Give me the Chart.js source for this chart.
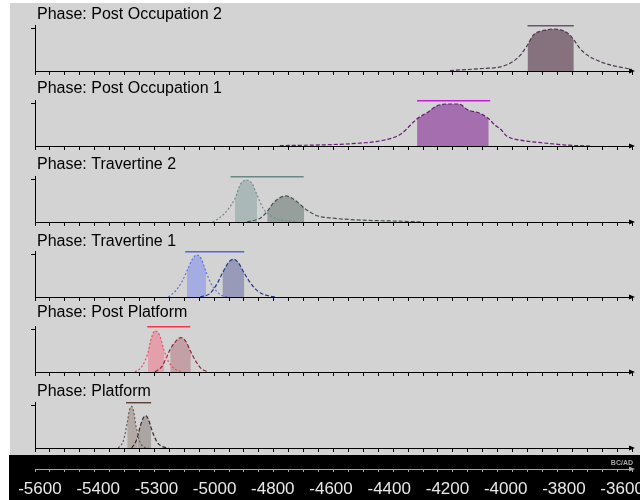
<!DOCTYPE html>
<html>
<head>
<meta charset="utf-8">
<script src="https://cdn.jsdelivr.net/npm/chart.js@4.4.0/dist/chart.umd.min.js"></script>
<style>
body { margin: 0; background: #fff; }
#wrap { position: relative; width: 640px; height: 500px; overflow: hidden; }
#bg { position: absolute; left: 10px; top: 3px; width: 630px; height: 452px; background: #d3d3d3; }
#band { position: absolute; left: 9px; top: 455px; width: 631px; height: 45px; background: #000; }
canvas { position: absolute; left: 0; }
</style>
</head>
<body>
<div id="wrap"><div id="bg"></div><div id="band"></div></div>
<script>
'use strict';

// axis
const xMin = -5600
const xMax = -3600
const minorStep = 50
const tickYears = [-5600, -5400, -5200, -5000, -4800, -4600, -4400, -4200, -4000, -3800, -3600]
const tickLabels = ['-5600', '-5400', '-5300', '-5000', '-4800', '-4600', '-4400', '-4200', '-4000', '-3800', '-3600']

const phaseNames = ['Phase: Post Occupation 2', 'Phase: Post Occupation 1', 'Phase: Travertine 2',
    'Phase: Travertine 1', 'Phase: Post Platform', 'Phase: Platform']

// Post Occupation 2
const po2Years = [-4210, -4100, -4040, -4000, -3975, -3950, -3930, -3905, -3885, -3865, -3840, -3815, -3795, -3775, -3750, -3705, -3665, -3615, -3600]
const po2Prob = [0.01, 0.06, 0.10, 0.22, 0.37, 0.62, 0.86, 0.95, 0.98, 1.00, 0.98, 0.90, 0.74, 0.54, 0.38, 0.22, 0.13, 0.06, 0.04]
const po2Range = [-3950, -3795]
const po2Bar = [-3950, -3795]

// Post Occupation 1
const po1Years = [-4780, -4620, -4510, -4445, -4375, -4335, -4320, -4285, -4255, -4220, -4180, -4150, -4110, -4080, -4060, -4040, -4020, -3975, -3905, -3815, -3740]
const po1Prob = [0.01, 0.03, 0.07, 0.12, 0.28, 0.55, 0.65, 0.80, 0.95, 1.00, 1.00, 0.86, 0.78, 0.65, 0.50, 0.40, 0.24, 0.14, 0.08, 0.02, 0.00]
const po1Range = [-4320, -4080]
const po1Bar = [-4320, -4075]

// Travertine 2
const tr2aYears = [-5005, -4970, -4930, -4913, -4893, -4873, -4856, -4836, -4806, -4769, -4720]
const tr2aProb = [0.00, 0.17, 0.56, 0.88, 1.00, 0.92, 0.64, 0.33, 0.13, 0.04, 0.01]
const tr2bYears = [-4890, -4846, -4822, -4802, -4779, -4759, -4735, -4712, -4698, -4655, -4600, -4490, -4380, -4300]
const tr2bProb = [0.00, 0.09, 0.25, 0.45, 0.58, 0.62, 0.55, 0.42, 0.33, 0.15, 0.09, 0.04, 0.02, 0.00]
const tr2aRange = [-4930, -4856]
const tr2bRange = [-4822, -4698]
const tr2Bar = [-4945, -4700]

// Travertine 1
const tr1aYears = [-5153, -5131, -5108, -5091, -5071, -5058, -5044, -5027, -5011, -4991, -4969, -4950]
const tr1aProb = [0.00, 0.13, 0.36, 0.62, 0.92, 1.00, 0.92, 0.60, 0.33, 0.13, 0.02, 0.00]
const tr1bYears = [-5047, -5013, -4989, -4972, -4952, -4935, -4919, -4899, -4879, -4852, -4812, -4790]
const tr1bProb = [0.00, 0.09, 0.33, 0.57, 0.82, 0.90, 0.82, 0.57, 0.34, 0.13, 0.02, 0.00]
const tr1aRange = [-5091, -5027]
const tr1bRange = [-4972, -4899]
const tr1Bar = [-5097, -4899]

// Post Platform
const ppaYears = [-5265, -5242, -5222, -5212, -5198, -5183, -5167, -5153, -5131, -5108]
const ppaProb = [0.00, 0.13, 0.45, 0.76, 0.98, 0.88, 0.50, 0.25, 0.07, 0.01]
const ppbYears = [-5198, -5175, -5159, -5147, -5125, -5111, -5094, -5078, -5058, -5041, -5019]
const ppbProb = [0.00, 0.13, 0.36, 0.54, 0.76, 0.82, 0.72, 0.48, 0.22, 0.07, 0.00]
const ppaRange = [-5222, -5167]
const ppbRange = [-5147, -5078]
const ppBar = [-5224, -5080]

// Platform
const plaYears = [-5321, -5304, -5291, -5284, -5277, -5270, -5261, -5257, -5250, -5237, -5220]
const plaProb = [0.00, 0.17, 0.60, 0.89, 0.99, 0.89, 0.49, 0.38, 0.17, 0.03, 0.00]
const plbYears = [-5276, -5261, -5257, -5250, -5239, -5229, -5218, -5211, -5192, -5175, -5153]
const plbProb = [0.00, 0.17, 0.25, 0.45, 0.69, 0.77, 0.65, 0.48, 0.15, 0.04, 0.00]
const plaRange = [-5291, -5257]
const plbRange = [-5257, -5211]
const plBar = [-5295, -5211]

const barLevel = 1.085

const panels = [
    {title: phaseNames[0], axisY: 71, lift: 52, bar: po2Bar, barColor: '#6b5670', curves: [
        {years: po2Years, prob: po2Prob, range: po2Range, line: '#4d3a4d', fill: '#86727f', dash: [4, 2]}]},
    {title: phaseNames[1], axisY: 146, lift: 53, bar: po1Bar, barColor: '#c41fd6', curves: [
        {years: po1Years, prob: po1Prob, range: po1Range, line: '#6a1a78', fill: '#a56eaf', dash: [4, 2]}]},
    {title: phaseNames[2], axisY: 222, lift: 53, bar: tr2Bar, barColor: '#6a8784', curves: [
        {years: tr2aYears, prob: tr2aProb, range: tr2aRange, line: '#6f8f8c', fill: '#aab9b7', dash: [2, 2]},
        {years: tr2bYears, prob: tr2bProb, range: tr2bRange, line: '#45524f', fill: '#969f9c', dash: [4, 2]}]},
    {title: phaseNames[3], axisY: 297, lift: 51.5, bar: tr1Bar, barColor: '#5165e6', curves: [
        {years: tr1aYears, prob: tr1aProb, range: tr1aRange, line: '#5b6fe6', fill: '#a5ace1', dash: [2, 2]},
        {years: tr1bYears, prob: tr1bProb, range: tr1bRange, line: '#283a8a', fill: '#979bb9', dash: [4, 2]}]},
    {title: phaseNames[4], axisY: 372, lift: 55.5, bar: ppBar, barColor: '#f53348', curves: [
        {years: ppaYears, prob: ppaProb, range: ppaRange, line: '#f04a5e', fill: '#e4a0aa', dash: [2, 2]},
        {years: ppbYears, prob: ppbProb, range: ppbRange, line: '#8b2637', fill: '#c3a0a5', dash: [4, 2]}]},
    {title: phaseNames[5], axisY: 448, lift: 52, bar: plBar, barColor: '#5c4033', curves: [
        {years: plaYears, prob: plaProb, range: plaRange, line: '#6b5b52', fill: '#b4aaa5', dash: [2, 2]},
        {years: plbYears, prob: plbProb, range: plbRange, line: '#3b2b26', fill: '#aaa5a2', dash: [4, 2]}]},
]

const FONT = '"Liberation Sans", Arial, sans-serif'

// every 50 years along the axis, with the labelled ones slightly longer
function minorTicks(s) {
    const list = []
    for (let v = xMin; v <= xMax; v += minorStep) list.push({value: v})
    s.ticks = list
}

// title text and arrow head on each panel
const panelDecor = {
    id: 'panelDecor',
    afterDraw(chart, args, opts) {
        const ctx = chart.ctx
        const area = chart.chartArea
        ctx.save()
        ctx.fillStyle = opts.color
        if (opts.title) {
            ctx.font = '16px ' + FONT
            ctx.textBaseline = 'alphabetic'
            ctx.fillText(opts.title, 37, area.bottom - opts.lift)
        }
        ctx.beginPath()
        ctx.moveTo(area.right - 3, area.bottom - 2.5)
        ctx.lineTo(area.right + 3, area.bottom)
        ctx.lineTo(area.right - 3, area.bottom + 2.5)
        ctx.closePath()
        ctx.fill()
        if (opts.unit) {
            ctx.font = 'bold 7px ' + FONT
            ctx.textAlign = 'right'
            ctx.fillText(opts.unit, 633, area.bottom - 4)
        }
        ctx.restore()
    }
}

const wrap = document.getElementById('wrap')

function makeCanvas(top, height) {
    const c = document.createElement('canvas')
    c.width = 640
    c.height = height
    c.style.top = top + 'px'
    wrap.appendChild(c)
    return c
}

function points(years, prob) {
    return years.map((x, i) => ({x: x, y: prob[i]}))
}

function axisX(color) {
    return {
        type: 'linear', position: 'bottom', min: xMin, max: xMax,
        afterBuildTicks: minorTicks,
        afterFit: s => { s.height = 6; s.paddingLeft = 0; s.paddingRight = 0 },
        ticks: {display: false},
        grid: {
            drawOnChartArea: false, drawTicks: true, tickLength: 4,
            color: color, tickColor: color, tickWidth: 1
        },
        border: {color: color, width: 1}
    }
}

function renderPanel(p) {
    const datasets = []
    p.curves.forEach(c => {
        datasets.push({
            data: points(c.years, c.prob),
            borderColor: c.line, borderWidth: 1.2, borderDash: c.dash,
            pointRadius: 0, cubicInterpolationMode: 'monotone', fill: false, order: 1
        })
        const inside = points(c.years, c.prob).filter(pt => pt.x >= c.range[0] && pt.x <= c.range[1])
        datasets.push({
            data: inside,
            backgroundColor: c.fill, borderWidth: 0,
            pointRadius: 0, cubicInterpolationMode: 'monotone', fill: 'origin', order: 2
        })
    })
    datasets.push({
        data: [{x: p.bar[0], y: barLevel}, {x: p.bar[1], y: barLevel}],
        borderColor: p.barColor, borderWidth: 2, pointRadius: 0, fill: false, order: 0
    })

    const canvas = makeCanvas(p.axisY - 68, 78)
    new Chart(canvas, {
        type: 'line',
        data: {datasets: datasets},
        options: {
            responsive: false,
            animation: false,
            devicePixelRatio: 1,
            layout: {padding: {left: 25, right: 8, top: 22, bottom: 4}},
            plugins: {
                legend: {display: false},
                tooltip: {enabled: false},
                panelDecor: {title: p.title, lift: p.lift, color: '#000'}
            },
            scales: {
                x: axisX('#000'),
                y: {
                    min: 0, max: 1.095,
                    afterFit: s => { s.width = 10 },
                    afterBuildTicks: s => { s.ticks = [{value: 1}] },
                    ticks: {display: false},
                    grid: {drawOnChartArea: false, tickLength: 4, color: '#000'},
                    border: {color: '#000', width: 1}
                }
            }
        },
        plugins: [panelDecor]
    })
}

panels.forEach(renderPanel)

// calendar axis in the black band
const axisCanvas = makeCanvas(455, 45)
const bandX = axisX('#a8a8a8')
bandX.afterFit = s => { s.height = 4; s.paddingLeft = 0; s.paddingRight = 0 }
bandX.grid.tickLength = 3
new Chart(axisCanvas, {
    type: 'line',
    data: {datasets: []},
    options: {
        responsive: false,
        animation: false,
        devicePixelRatio: 1,
        layout: {padding: {left: 35, right: 8, top: 13, bottom: 0}},
        plugins: {
            legend: {display: false},
            tooltip: {enabled: false},
            panelDecor: {color: '#a8a8a8', unit: 'BC/AD'}
        },
        scales: {
            x: bandX,
            xl: {
                type: 'linear', position: 'bottom', min: -5617, max: -3566,
                afterBuildTicks: s => { s.ticks = tickYears.map(v => ({value: v})) },
                afterFit: s => { s.height = 27; s.paddingLeft = 0; s.paddingRight = 0 },
                ticks: {
                    color: '#e8e8e8', font: {family: FONT, size: 17}, padding: 6,
                    autoSkip: false, maxRotation: 0,
                    callback: (v, i) => tickLabels[i]
                },
                grid: {display: false, drawTicks: false},
                border: {display: false}
            },
            y: {display: false, min: 0, max: 1}
        }
    },
    plugins: [panelDecor]
})
</script>
</body>
</html>
